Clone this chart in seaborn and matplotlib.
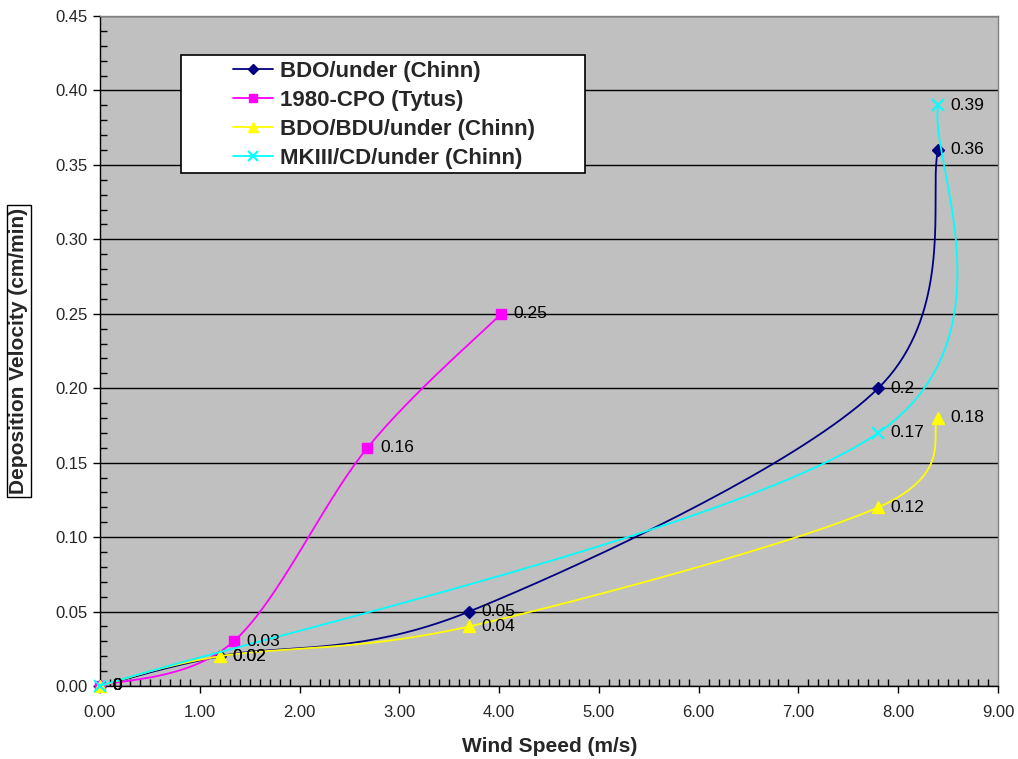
import matplotlib
matplotlib.use("Agg")
import matplotlib.pyplot as plt
import numpy as np
import pandas as pd
import seaborn as sns
from matplotlib.lines import Line2D
from matplotlib.patches import Rectangle
from matplotlib.ticker import FormatStrFormatter, MultipleLocator

# data
bdo_x = [0.0, 1.2, 3.7, 7.8, 8.4]
bdo_y = [0.0, 0.02, 0.05, 0.2, 0.36]
cpo_x = [0.0, 1.34, 2.68, 4.02]
cpo_y = [0.0, 0.03, 0.16, 0.25]
bdu_x = [0.0, 1.2, 3.7, 7.8, 8.4]
bdu_y = [0.0, 0.02, 0.04, 0.12, 0.18]
mk3_x = [0.0, 7.8, 8.4]
mk3_y = [0.0, 0.17, 0.39]

series_names = [
    "BDO/under (Chinn)",
    "1980-CPO (Tytus)",
    "BDO/BDU/under (Chinn)",
    "MKIII/CD/under (Chinn)",
]


def smoothCurve(xs, ys, steps=40):
    # spreadsheet-style smoothed line: cubic bezier through the points
    pts = np.column_stack([xs, ys]).astype(float)
    n = len(pts)
    out = [pts[0]]
    t = np.linspace(0, 1, steps)[1:, None]
    for i in range(n - 1):
        p0 = pts[i - 1] if i > 0 else pts[i]
        p1 = pts[i]
        p2 = pts[i + 1]
        p3 = pts[i + 2] if i + 2 < n else pts[i + 1]
        c1 = p1 + (p2 - p0) / 6
        c2 = p2 - (p3 - p1) / 6
        seg = ((1 - t) ** 3) * p1 + 3 * ((1 - t) ** 2) * t * c1 \
            + 3 * (1 - t) * t ** 2 * c2 + t ** 3 * p2
        out.extend(seg)
    out = np.array(out)
    return out[:, 0], out[:, 1]


sns.set_style("white")
plt.rcParams["font.family"] = ["Liberation Sans", "DejaVu Sans"]

fig = plt.figure(figsize=(10.18, 7.59), dpi=100)
ax = fig.add_axes([100 / 1018, 1 - 686 / 759, 898 / 1018, 670 / 759])
ax.set_facecolor("#C0C0C0")

series = [
    (bdo_x, bdo_y, "#000080", "D", 6),
    (cpo_x, cpo_y, "#FF00FF", "s", 7),
    (bdu_x, bdu_y, "#FFFF00", "^", 8),
    (mk3_x, mk3_y, "#00FFFF", "x", 8),
]

for k, (xs, ys, color, marker, ms) in enumerate(series):
    cx, cy = smoothCurve(xs, ys)
    curve = pd.DataFrame({"x": cx, "y": cy})
    sns.lineplot(data=curve, x="x", y="y", sort=False, estimator=None,
                 color=color, linewidth=1.3, ax=ax, zorder=3 + k)
    ax.plot(xs, ys, linestyle="none", marker=marker, color=color,
            markersize=ms, markeredgewidth=1.5 if marker == "x" else 1,
            zorder=3 + k, clip_on=False)
    for x, y in zip(xs, ys):
        ax.annotate(f"{y:g}", (x, y), xytext=(9, 0),
                    textcoords="offset points", va="center", ha="left",
                    fontsize=12.5, color="black", zorder=10)

ax.set_xlim(0, 9)
ax.set_ylim(0, 0.45)
ax.xaxis.set_major_locator(MultipleLocator(1))
ax.xaxis.set_minor_locator(MultipleLocator(0.1))
ax.yaxis.set_major_locator(MultipleLocator(0.05))
ax.yaxis.set_minor_locator(MultipleLocator(0.01))
ax.xaxis.set_major_formatter(FormatStrFormatter("%.2f"))
ax.yaxis.set_major_formatter(FormatStrFormatter("%.2f"))
ax.tick_params(which="major", direction="out", length=5, width=1,
               labelsize=12, color="black", pad=4)
ax.tick_params(axis="x", which="major", pad=9)
ax.tick_params(which="minor", direction="in", length=5, width=1,
               color="black")
ax.tick_params(axis="x", which="both", bottom=True)
ax.tick_params(axis="y", which="both", left=True)
ax.grid(axis="y", which="major", color="black", linewidth=1)
ax.grid(axis="x", visible=False)
ax.set_axisbelow(True)
ax.set_xlabel("")
ax.set_ylabel("")

for side in ["left", "bottom"]:
    ax.spines[side].set_color("black")
    ax.spines[side].set_linewidth(1)
for side in ["top", "right"]:
    ax.spines[side].set_color("#808080")
    ax.spines[side].set_linewidth(1)

fig.text(550 / 1018, 1 - 747 / 759, "Wind Speed (m/s)", ha="center",
         va="center", fontsize=15, fontweight="bold")
fig.text(19 / 1018, 1 - 351 / 759, "Deposition Velocity (cm/min)",
         ha="center", va="center", rotation=90, fontsize=15,
         fontweight="bold",
         bbox=dict(facecolor="white", edgecolor="black", pad=2.0,
                   linewidth=1))

# legend box
box = Rectangle(((181 - 100) / 898, (686 - 173) / 670), 404 / 898,
                118 / 670, transform=ax.transAxes, facecolor="white",
                edgecolor="black", linewidth=1.2, zorder=20)
ax.add_patch(box)
handles = [
    Line2D([], [], color=c, marker=m, markersize=ms * 0.9, linewidth=1.3,
           markeredgewidth=1.5 if m == "x" else 1)
    for (_, _, c, m, ms) in series
]
leg = ax.legend(handles, series_names, loc="upper left",
                bbox_to_anchor=((233 - 100) / 898, (686 - 61) / 670),
                frameon=False, fontsize=16, handlelength=1.8,
                handletextpad=0.3, labelspacing=0.36, borderpad=0,
                borderaxespad=0)
for txt in leg.get_texts():
    txt.set_fontweight("bold")
leg.set_zorder(21)

fig.savefig("out.png", dpi=100)
